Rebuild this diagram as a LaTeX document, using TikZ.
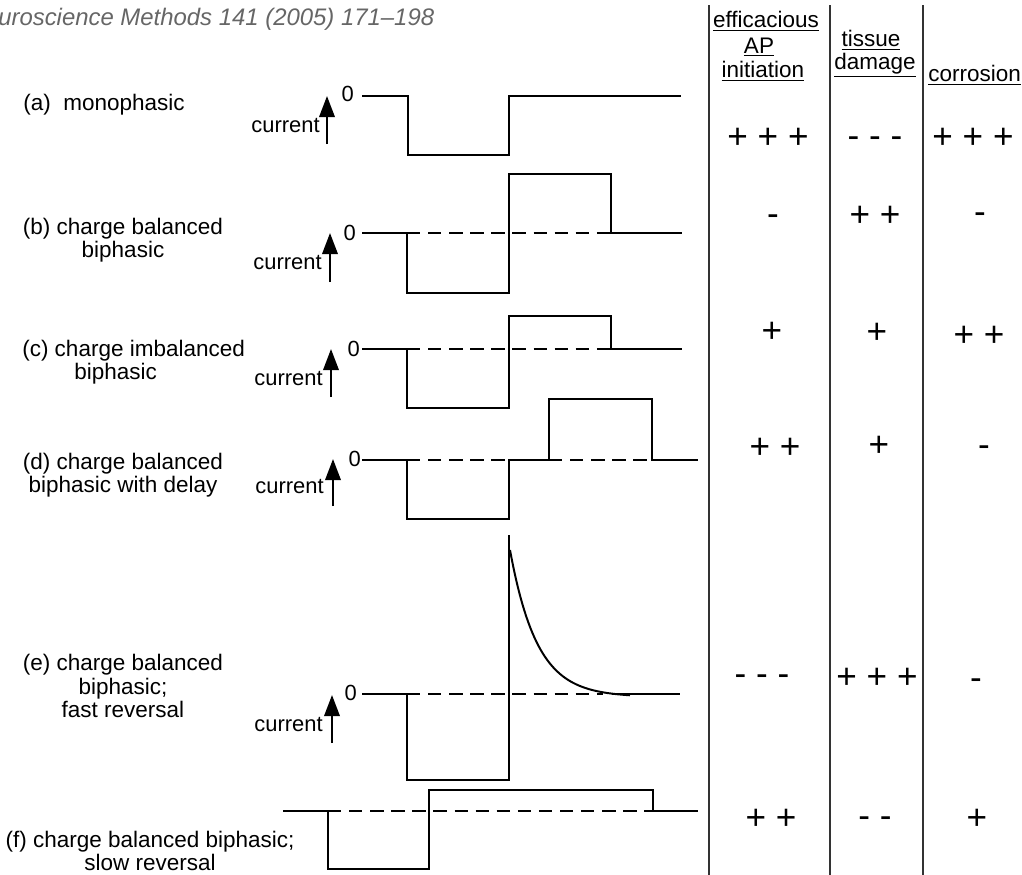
\documentclass[tikz,border=0pt]{standalone}
\usepackage{fontspec}
\setmainfont{Liberation Sans}
\usetikzlibrary{arrows.meta}

\begin{document}
\begin{tikzpicture}[x=0.025cm, y=-0.025cm,
  wave/.style={line width=1.4pt, line join=miter},
  zeroline/.style={line width=1.3pt, dash pattern=on 9.5pt off 5.5pt},
  sep/.style={line width=1.5pt, black!80},
  lbl/.style={align=center, inner sep=0pt, font=\fontsize{16}{16.6}\selectfont},
  cur/.style={anchor=east, inner sep=0pt, font=\fontsize{15.6}{16}\selectfont},
  nul/.style={anchor=east, inner sep=0pt, font=\fontsize{15.6}{16}\selectfont},
  up/.style={line width=1.5pt, -{Triangle[length=15pt, width=11pt]}},
  hd/.style={inner sep=0pt, font=\fontsize{16}{16}\selectfont},
  sym/.style={inner sep=0pt, font=\fontsize{25}{25}\selectfont}]
\useasboundingbox (0,0) rectangle (1022,875);

\node (src) [anchor=west, inner sep=0pt, text=black!60, font=\fontsize{17}{17}\selectfont\itshape] at (-2,19) {uroscience Methods 141 (2005) 171–198};

% column rules and headings
\draw[sep] (709,5) -- (709,875);
\draw[sep] (830,5) -- (830,875);
\draw[sep] (923,5) -- (923,875);
\node (h1) [hd] at (766,21) {\underline{efficacious}};
\node (h2) [hd] at (759,47) {\underline{AP}};
\node (h3) [hd] at (763,71) {\underline{initiation}};
\node (h4) [hd] at (871,40) {\underline{tissue}};
\node (h5) [hd] at (875,65) {\underline{damage}};
\node (h6) [hd, anchor=west] at (928,75) {\underline{corrosion}};

% row labels
\node (la) [lbl, anchor=west] at (23,105) {(a)\ \ monophasic};
\node (lb) [lbl] at (123,240) {(b) charge balanced\\biphasic};
\node (lc) [lbl, align=left, anchor=west] at (22,362) {(c) charge imbalanced\\\hspace*{1.3cm}biphasic};
\node (ld) [lbl] at (123,475) {(d) charge balanced\\biphasic with delay};
\node (le) [lbl] at (123,686) {(e) charge balanced\\biphasic;\\fast reversal};
\node (lf) [lbl] at (150,851) {(f) charge balanced biphasic;\\slow reversal};

% current axes
\node (ca) [cur] at (320,126) {current};
\coordinate (ta0) at (327,144); \coordinate (ta1) at (327,96);
\draw[up] (ta0) -- (ta1);
\node (za) [nul] at (354,94) {0};
\node (cb) [cur] at (322,263) {current};
\coordinate (tb0) at (330,282); \coordinate (tb1) at (330,233);
\draw[up] (tb0) -- (tb1);
\node (zb) [nul] at (356,233) {0};
\node (cc) [cur] at (323,379) {current};
\coordinate (tc0) at (331,397); \coordinate (tc1) at (331,349);
\draw[up] (tc0) -- (tc1);
\node (zc) [nul] at (360,349) {0};
\node (cd) [cur] at (324,487) {current};
\coordinate (td0) at (333,506); \coordinate (td1) at (333,459);
\draw[up] (td0) -- (td1);
\node (zd) [nul] at (361,459) {0};
\node (ce) [cur] at (323,725) {current};
\coordinate (te0) at (332,743); \coordinate (te1) at (332,695);
\draw[up] (te0) -- (te1);
\node (ze) [nul] at (357,693) {0};

% waveforms
\draw[wave] (362,96) -| (408,155) -| (509,96) -- (681,96);

\draw[zeroline] (407,233) -- (611,233);
\draw[wave] (362,233) -| (407,293) -| (509,174) -| (611,233) -- (682,233);

\draw[zeroline] (407,349) -- (611,349);
\draw[wave] (362,349) -| (407,408) -| (509,316) -| (611,349) -- (682,349);

\draw[zeroline] (407,460) -- (509,460);
\draw[zeroline] (549,460) -- (652,460);
\draw[wave] (362,460) -| (407,519) -| (509,460) -- (549,460) |- (652,399) |- (698,460);

\draw[zeroline] (407,694) -- (603,694);
\draw[wave] (362,694) -| (407,780) -| (509,535);
\draw[wave] plot[domain=0:120, samples=60] ({510+\x}, {697-147*exp(-\x/27)});
\draw[wave] (612,694) -- (680,694);

\draw[zeroline] (328,811) -- (653,811);
\draw[wave] (283,811) -| (328,869) -| (429,790) -| (653,811) -- (698,811);

% ratings
\node (a1) [sym] at (768,138) {+ + +};
\node (a2) [sym] at (875,142) {- - -};
\node (a3) [sym] at (973,138) {+ + +};
\node (b1) [sym] at (773,220) {-};
\node (b2) [sym] at (875,216) {+ +};
\node (b3) [sym] at (980,218) {-};
\node (c1) [sym] at (772,332) {+};
\node (c2) [sym] at (877,333) {+};
\node (c3) [sym] at (979,336) {+ +};
\node (d1) [sym] at (775,448) {+ +};
\node (d2) [sym] at (879,446) {+};
\node (d3) [sym] at (984,451) {-};
\node (e1) [sym] at (762,680) {- - -};
\node (e2) [sym] at (877,678) {+ + +};
\node (e3) [sym] at (976,684) {-};
\node (f1) [sym] at (771,819) {+ +};
\node (f2) [sym] at (875,822) {- -};
\node (f3) [sym] at (977,819) {+};
\end{tikzpicture}
\end{document}
